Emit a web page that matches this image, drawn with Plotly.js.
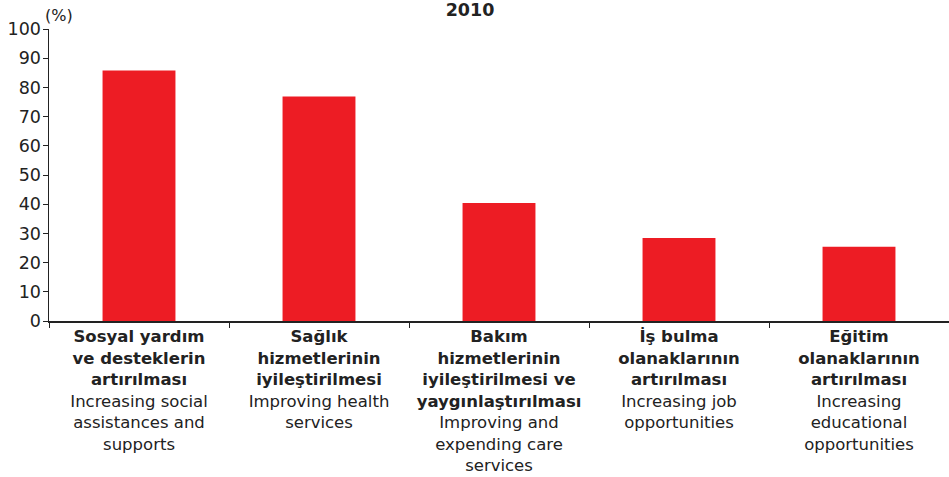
<!DOCTYPE html>
<html><head><meta charset="utf-8">
<script src="https://cdn.plot.ly/plotly-3.0.1.min.js"></script>
<style>html,body{margin:0;padding:0;background:#fff}#chart{width:949px;height:477px}</style>
</head><body><div id="chart"></div>
<script>
var categoriesTR = ["Sosyal yardım<br>ve desteklerin<br>artırılması", "Sağlık<br>hizmetlerinin<br>iyileştirilmesi", "Bakım<br>hizmetlerinin<br>iyileştirilmesi ve<br>yaygınlaştırılması", "İş bulma<br>olanaklarının<br>artırılması", "Eğitim<br>olanaklarının<br>artırılması"];
var categoriesEN = ["Increasing social<br>assistances and<br>supports", "Improving health<br>services", "Improving and<br>expending care<br>services", "Increasing job<br>opportunities", "Increasing<br>educational<br>opportunities"];
var values = [85.8, 76.9, 40.4, 28.4, 25.4];
var yTicks = [0, 10, 20, 30, 40, 50, 60, 70, 80, 90, 100];

var labels = categoriesTR.map(function (t, i) { return "<b>" + t + "</b><br>" + categoriesEN[i]; });
var keys = labels.map(function (_, i) { return "c" + i; });

var font = "DejaVu Sans, Verdana, sans-serif";
Plotly.newPlot("chart", [{
  type: "bar",
  x: keys,
  y: values,
  marker: { color: "#ED1C24" },
  hoverinfo: "none"
}], {
  width: 949, height: 477,
  margin: { l: 49, r: 0, t: 29, b: 156 },
  paper_bgcolor: "#fff", plot_bgcolor: "#fff",
  bargap: 0.595,
  showlegend: false,
  font: { family: font, color: "#222", size: 16 },
  title: { text: "<b>2010</b>", x: 470 / 949, xref: "container", xanchor: "center", y: 1 - 10 / 477, yref: "container", yanchor: "middle", font: { family: font, size: 17.5, color: "#222" } },
  xaxis: {
    type: "category", tickvals: keys, ticktext: labels,
    tickson: "boundaries", ticks: "outside", ticklen: 5, tickcolor: "#222",
    showline: true, linecolor: "#222", linewidth: 1.5,
    showgrid: false, zeroline: false, tickangle: 0,
    tickfont: { family: font, size: 16.5, color: "#222" }
  },
  yaxis: {
    range: [0, 100], tickvals: yTicks, ticks: "outside", ticklen: 5, tickcolor: "#222",
    showline: true, linecolor: "#222", linewidth: 1.5,
    showgrid: false, zeroline: false, ticklabelstandoff: -2,
    tickfont: { family: font, size: 17.5, color: "#222" }
  },
  annotations: [{
    text: "(%)", xref: "paper", yref: "paper", x: 0, y: 1, xanchor: "center", yanchor: "middle",
    xshift: 10, yshift: 13.5, showarrow: false, font: { family: font, size: 16, color: "#222" }
  }]
}, { staticPlot: true, displayModeBar: false });
</script></body></html>
